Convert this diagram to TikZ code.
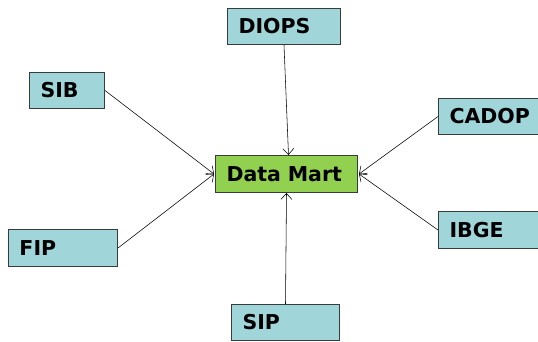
\documentclass[tikz,border=0pt]{standalone}
\usepackage{fontspec}
\setmainfont{DejaVu Sans}
\usetikzlibrary{arrows.meta}
\definecolor{boxteal}{RGB}{160,213,217}
\definecolor{boxgreen}{RGB}{146,208,80}
\definecolor{edgegray}{RGB}{55,60,60}
\tikzset{
  src/.style={draw=edgegray, line width=1pt, fill=boxteal, rectangle, inner xsep=11pt, inner ysep=0pt,
    align=left, font=\fontsize{20.5}{22}\selectfont\bfseries, anchor=north west},
  hub/.style={src, fill=boxgreen},
  conn/.style={draw=black, line width=0.55pt, -{Straight Barb[length=6pt,width=11pt]}}
}
\begin{document}
\begin{tikzpicture}[x=1pt,y=-1pt]
\useasboundingbox (0,0) rectangle (538,341);
\node[src, text width=113pt-22pt, minimum height=36pt] (diops) at (227,8) {DIOPS};
\node[src, text width=75pt-22pt, minimum height=36pt] (sib) at (29,72) {SIB};
\node[src, text width=100pt-22pt, minimum height=36pt] (cadop) at (438,98) {CADOP};
\node[hub, text width=142pt-22pt, minimum height=37pt] (dm) at (215,155) {Data Mart};
\node[src, text width=109pt-22pt, minimum height=37pt] (fip) at (8,229) {FIP};
\node[src, text width=100pt-22pt, minimum height=37pt] (ibge) at (438,211) {IBGE};
\node[src, text width=108pt-22pt, minimum height=36pt] (sip) at (231,304) {SIP};
\draw[conn] (diops.south) -- ([xshift=2pt]dm.north);
\draw[conn] (sib.east) -- ([xshift=-1pt]dm.west);
\draw[conn] (fip.east) -- ([xshift=-1pt]dm.west);
\draw[conn] (cadop.west) -- ([xshift=1pt]dm.east);
\draw[conn] (ibge.west) -- ([xshift=1pt]dm.east);
\draw[conn] (sip.north) -- (dm.south);
\end{tikzpicture}
\end{document}
